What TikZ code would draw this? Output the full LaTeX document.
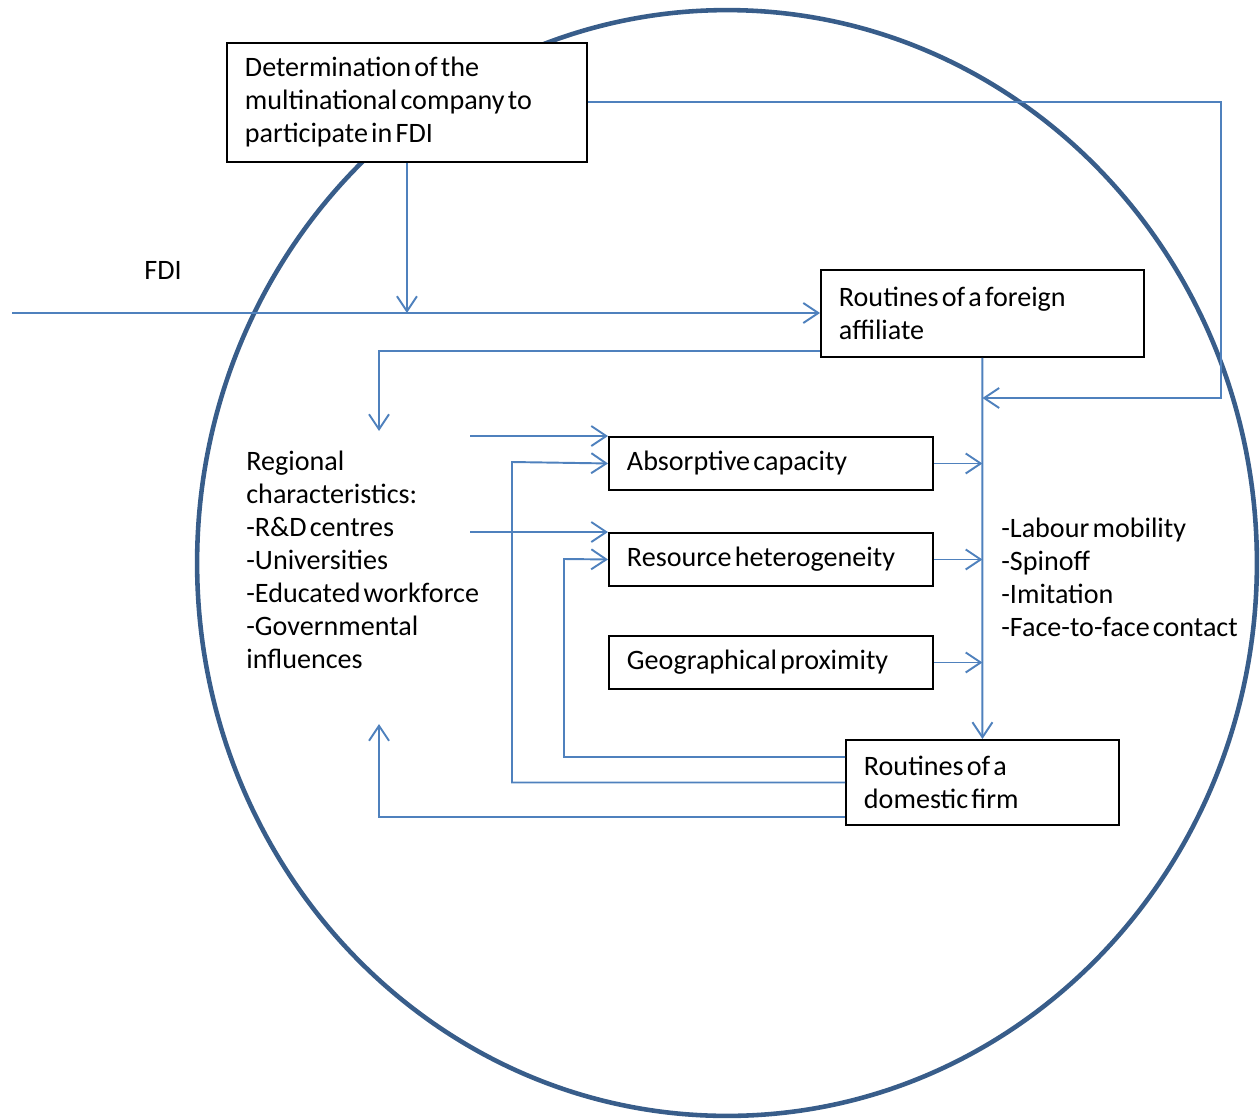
\documentclass[tikz,border=0pt]{standalone}
\usepackage{fontspec}
\setmainfont{Carlito}[WordSpace=0.5]
\usetikzlibrary{arrows.meta,calc}
\definecolor{linkblue}{HTML}{4F81BD}
\definecolor{ringblue}{HTML}{385D8A}
\tikzset{
  box/.style={draw, line width=1.1pt, fill=white, anchor=north west, align=left,
    inner xsep=0.36cm, inner ysep=0pt,
    execute at begin node={\spaceskip=0pt\xspaceskip=0pt}},
  txt/.style={anchor=west, align=left, inner sep=0pt},
  link/.style={draw=linkblue, line width=1.1pt},
  arr/.style={link, -{Straight Barb[length=0.3cm,width=0.4cm,line width=1.1pt]}}
}
\begin{document}
\begin{tikzpicture}[x=0.02cm,y=-0.02cm,font=\fontsize{16}{18.8}\selectfont]
\useasboundingbox (0,0) rectangle (1260,1119);

\draw[ringblue, line width=2.6pt] (727,563) ellipse [x radius=10.6cm, y radius=11.06cm];

\node[box, text width=7.2cm-0.72cm, minimum height=2.38cm] (det) at (226,42)
  {Determination of the\\multinational company to\\participate in FDI};
\node[box, text width=6.46cm-0.72cm, minimum height=1.74cm] (aff) at (820,269)
  {Routines of a foreign\\affiliate};
\node[box, text width=6.48cm-0.72cm, minimum height=1.06cm] (abs) at (608,436)
  {Absorptive capacity};
\node[box, text width=6.48cm-0.72cm, minimum height=1.06cm] (res) at (608,532)
  {Resource heterogeneity};
\node[box, text width=6.48cm-0.72cm, minimum height=1.06cm] (geo) at (608,635)
  {Geographical proximity};
\node[box, text width=5.46cm-0.72cm, minimum height=1.7cm] (dom) at (845,739)
  {Routines of a\\domestic firm};

\node[txt] (fdi) at (144,270) {FDI};
\node[txt] (reg) at (246,560) {Regional\\characteristics:\\-R\&D centres\\-Universities\\-Educated workforce\\-Governmental\\influences};
\node[txt] (chan) at (1001,577) {-Labour mobility\\-Spinoff\\-Imitation\\-Face-to-face contact};

\coordinate (fdiin) at (12,313);
\coordinate (rturn) at (1221,398);
\coordinate (regtop) at (379,431);
\coordinate (regbot) at (379,724);
\coordinate (abslane) at (512,462);
\coordinate (reslane) at (564,559);
\coordinate (absin) at (470,436);
\coordinate (resin) at (470,532);

% FDI into the foreign affiliate
\draw[arr] (fdiin) -- (fdiin -| aff.west);
\draw[arr] (det.south) -- (det.south |- fdiin);
\draw[arr] (det.east) -| (rturn) -- (rturn -| aff.south);
\draw[arr] (aff.south) -- (dom.north);
\draw[arr] ($(aff.south west)+(0,-7)$) -| (regtop);

% regional characteristics into the boxes
\draw[arr] (absin) -- (abs.north west);
\draw[arr] (resin) -- (res.north west);

% feedback from the domestic firm
\draw[arr] (dom.west) -| (abslane) -- (abs.west);
\draw[arr] ($(dom.north west)+(0,18)$) -| (reslane) -- (res.west);
\draw[arr] ($(dom.south west)+(0,-9)$) -| (regbot);

% channels
\draw[arr] (abs.east) -- (abs.east -| aff.south);
\draw[arr] (res.east) -- (res.east -| aff.south);
\draw[arr] (geo.east) -- (geo.east -| aff.south);
\end{tikzpicture}
\end{document}
